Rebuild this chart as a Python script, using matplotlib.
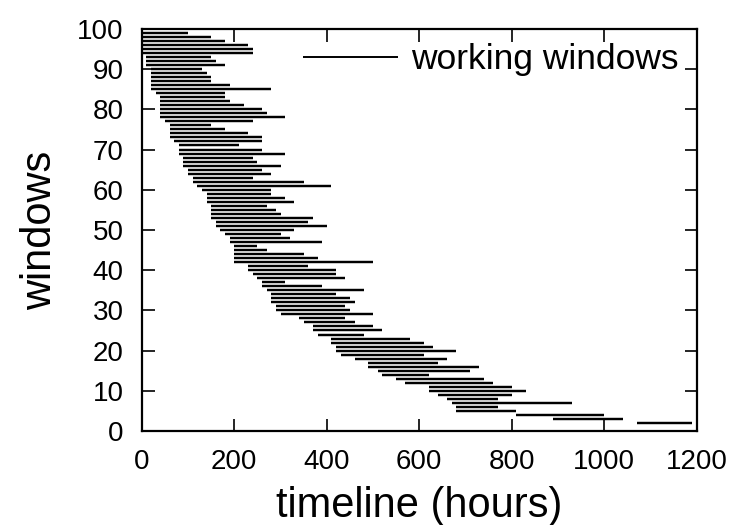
import numpy as np
import matplotlib
matplotlib.use('Agg')
import matplotlib.pyplot as plt

plt.rcParams['font.family'] = ['Liberation Sans', 'DejaVu Sans']

# working windows, listed from the top row (window 99) down to window 2
windows = list(range(99, 1, -1))
starts = [0, 0, 0, 0, 0, 0, 10, 10, 10, 20,
          20, 20, 20, 20, 20, 30, 40, 40, 40, 40,
          40, 40, 50, 60, 60, 60, 60, 70, 80, 80,
          80, 90, 90, 90, 100, 100, 110, 110, 120, 130,
          140, 140, 140, 150, 150, 150, 150, 160, 160, 170,
          180, 190, 190, 200, 200, 200, 200, 200, 230, 230,
          240, 250, 260, 260, 270, 280, 280, 280, 290, 290,
          300, 340, 350, 370, 370, 380, 410, 410, 420, 420,
          430, 460, 490, 490, 510, 520, 550, 570, 620, 620,
          640, 660, 670, 680, 680, 810, 890, 1070]
ends = [100, 150, 180, 230, 240, 240, 150, 160, 180, 130,
        140, 150, 150, 190, 280, 180, 180, 190, 220, 260,
        270, 310, 240, 150, 180, 230, 260, 260, 210, 260,
        310, 240, 250, 300, 260, 280, 240, 350, 410, 280,
        280, 310, 330, 270, 290, 300, 370, 360, 400, 330,
        300, 320, 390, 250, 270, 350, 380, 500, 360, 420,
        420, 440, 310, 390, 480, 420, 450, 460, 440, 450,
        500, 440, 460, 500, 520, 480, 580, 610, 630, 680,
        610, 660, 640, 730, 710, 620, 740, 760, 800, 830,
        800, 770, 930, 770, 810, 1000, 1040, 1190]

fig = plt.figure(figsize=(7.5, 5.25), dpi=100)
ax = fig.add_axes([0.189, 0.179, 0.74, 0.766])

ax.hlines(windows, starts, ends, colors='black', linewidth=1.75,
          label='working windows')

ax.set_xlim(0, 1200)
ax.set_ylim(0, 100)
ax.set_xticks(np.arange(0, 1201, 200))
ax.set_yticks(np.arange(0, 101, 10))
ax.tick_params(direction='in', length=9, width=1.2, top=True, right=True)
ax.tick_params(axis='x', pad=13, labelsize=20)
ax.tick_params(axis='y', pad=13, labelsize=20)
for s in ax.spines.values():
    s.set_linewidth(1.6)

ax.set_xlabel('timeline (hours)', fontsize=30, labelpad=8)
ax.set_ylabel('windows', fontsize=30, labelpad=12)

leg = ax.legend(loc='center right', bbox_to_anchor=(0.968, 0.923),
                frameon=False, fontsize=25.5, handlelength=2.68,
                handletextpad=0.37, borderpad=0, borderaxespad=0)
leg.get_lines()[0].set_linewidth(1.4)

fig.savefig('out.png', dpi=100)
